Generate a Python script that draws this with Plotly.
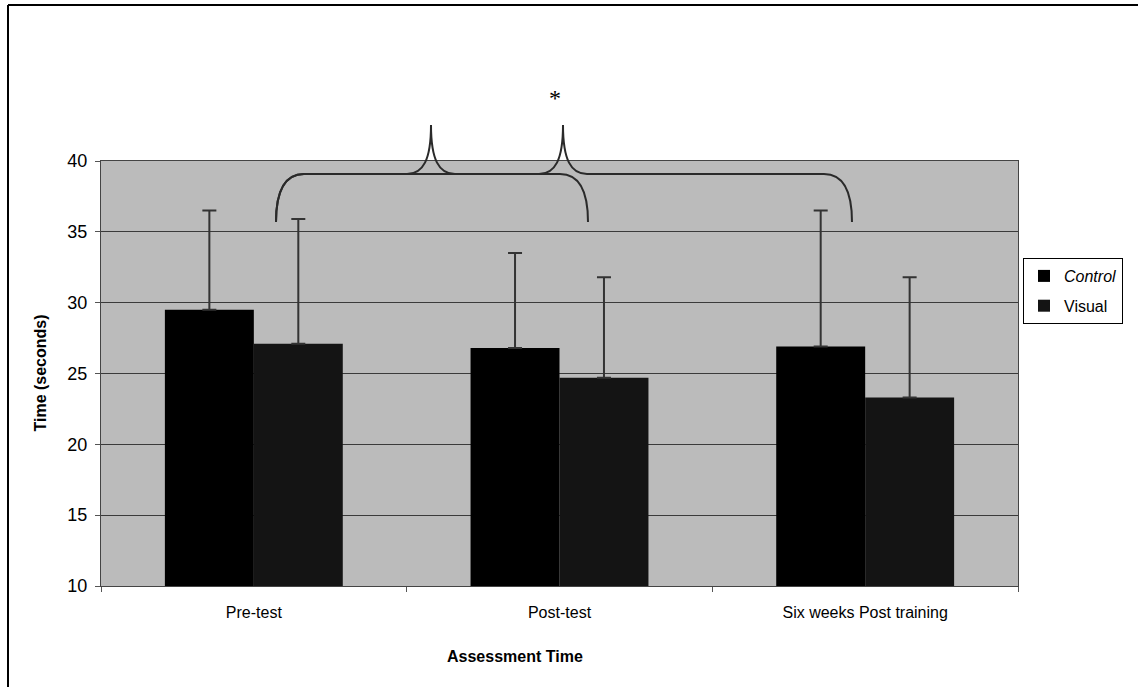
import plotly.graph_objects as go

# data
categories = ["Pre-test", "Post-test", "Six weeks Post training"]
control_mean = [29.5, 26.8, 26.9]
control_sd = [7.0, 6.7, 9.6]
visual_mean = [27.1, 24.7, 23.3]
visual_sd = [8.8, 7.1, 8.5]
y_ticks = [10, 15, 20, 25, 30, 35, 40]

W, H = 1138, 687
L, R, T, B = 101, 1018, 161, 586


def px(x, y):
    # pixel -> paper coords
    return f"{(x - L) / (R - L):.5f},{(B - y) / (B - T):.5f}"


def brace(x0, xm, x1, y_line=174, y_end=222, y_peak=125):
    return (
        f"M{px(x0, y_end)} C{px(x0, 192)} {px(x0 + 8, y_line)} {px(x0 + 28, y_line)} "
        f"L{px(xm - 24, y_line)} C{px(xm - 8, y_line)} {px(xm, 160)} {px(xm, y_peak)} "
        f"C{px(xm, 160)} {px(xm + 8, y_line)} {px(xm + 24, y_line)} "
        f"L{px(x1 - 28, y_line)} C{px(x1 - 8, y_line)} {px(x1, 192)} {px(x1, y_end)}"
    )


fig = go.Figure()
fig.add_trace(go.Bar(
    x=categories, y=control_mean, name="<i>Control</i>",
    marker=dict(color="#000000", line=dict(width=0)),
    error_y=dict(type="data", array=control_sd, arrayminus=[0] * 3, symmetric=False,
                 color="#333333", thickness=2, width=7),
    legendgroup="c",
))
fig.add_trace(go.Bar(
    x=categories, y=visual_mean, name="Visual",
    marker=dict(color="#141414", line=dict(width=0)),
    error_y=dict(type="data", array=visual_sd, arrayminus=[0] * 3, symmetric=False,
                 color="#333333", thickness=2, width=7),
    legendgroup="v",
))

fig.update_layout(
    width=W, height=H,
    margin=dict(l=L, r=W - R, t=T, b=H - B, autoexpand=False),
    paper_bgcolor="white",
    plot_bgcolor="#bbbbbb",
    barmode="group",
    bargap=0.418,
    bargroupgap=0,
    font=dict(family="Liberation Sans, Arial", size=16, color="black"),
    legend=dict(
        x=(1023 - L) / (R - L), y=(B - 258) / (B - T),
        xanchor="left", yanchor="top",
        bgcolor="white", bordercolor="black", borderwidth=1,
        font=dict(size=16), tracegroupgap=6, itemwidth=30,
    ),
    showlegend=True,
)

fig.update_yaxes(
    range=[10, 40], tickvals=y_ticks, ticks="outside", ticklen=5, tickcolor="#555",
    showgrid=True, gridcolor="#3a3a3a", gridwidth=1,
    showline=True, linecolor="#444", linewidth=1, mirror=True,
    tickfont=dict(size=18), zeroline=False, ticklabelstandoff=4,
)
fig.update_xaxes(
    ticks="outside", ticklen=5, tickcolor="#555", tickson="boundaries",
    showline=True, linecolor="#444", linewidth=1, mirror=True,
    tickfont=dict(size=16), ticklabelstandoff=12,
)

shapes = [
    # outer frame
    dict(type="line", xref="paper", yref="paper",
         x0=(8 - L) / (R - L), x1=(8 - L) / (R - L),
         y0=(B - 5) / (B - T), y1=(B - 700) / (B - T),
         line=dict(color="black", width=2)),
    dict(type="line", xref="paper", yref="paper",
         x0=(8 - L) / (R - L), x1=(1140 - L) / (R - L),
         y0=(B - 5) / (B - T), y1=(B - 5) / (B - T),
         line=dict(color="black", width=2)),
    # significance braces
    dict(type="path", xref="paper", yref="paper", path=brace(276, 431, 588),
         line=dict(color="#2a2a2a", width=2)),
    dict(type="path", xref="paper", yref="paper", path=brace(276, 563, 852),
         line=dict(color="#2a2a2a", width=2)),
]
fig.update_layout(shapes=shapes)

fig.add_annotation(text="*", xref="paper", yref="paper",
                   x=(555 - L) / (R - L), y=(B - 98) / (B - T),
                   xanchor="center", yanchor="middle",
                   showarrow=False, font=dict(family="Liberation Serif", size=24))
fig.add_annotation(text="<b>Time (seconds)</b>", xref="paper", yref="paper",
                   x=(40 - L) / (R - L), y=0.5, textangle=-90,
                   xanchor="center", yanchor="middle",
                   showarrow=False, font=dict(size=16))
fig.add_annotation(text="<b>Assessment Time</b>", xref="paper", yref="paper",
                   x=(515 - L) / (R - L), y=(B - 656) / (B - T),
                   xanchor="center", yanchor="middle",
                   showarrow=False, font=dict(size=16))

fig.write_html("out.html", config={"displayModeBar": False},
               post_script="document.body.style.margin='0';")
